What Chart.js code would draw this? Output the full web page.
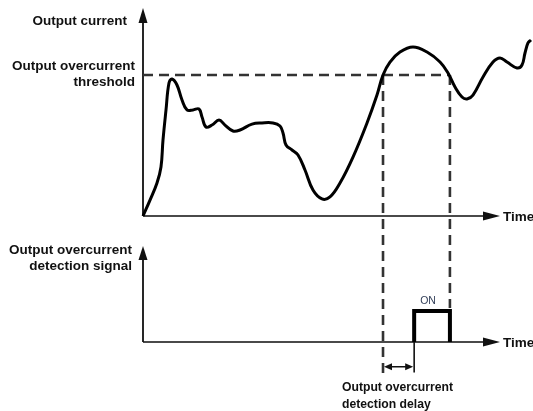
<!DOCTYPE html>
<html>
<head>
<meta charset="utf-8">
<script src="https://cdn.jsdelivr.net/npm/chart.js@4/dist/chart.umd.min.js"></script>
<style>
  html, body { margin: 0; padding: 0; background: #fff; }
  #wrap { width: 533px; height: 411px; position: relative; }
</style>
</head>
<body>
<div id="wrap"><canvas id="chart"></canvas></div>
<script>
// output current trace (time in arbitrary units, current in % of threshold)
const timeSamples = [0, 1.98, 3.95, 5.08, 5.65, 6.5, 7.34, 8.19, 9.6, 11.02, 12.43, 14.12, 15.82, 16.67, 17.8, 19.49, 21.47, 23.16, 25.42, 27.4, 30.79, 33.62, 36.72, 38.7, 39.55, 40.4, 42.09, 43.79, 45.76, 48.02, 50.56, 52.82, 55.65, 59.32, 63.28, 66.1, 67.8, 69.77, 72.6, 76.27, 80.23, 83.9, 86.16, 88.14, 90.11, 91.53, 93.22, 96.05, 98.87, 100.85, 102.82, 105.65, 107.06, 107.91, 108.76, 109.6];
const currentSamples = [0, 11.3, 23.4, 34.8, 53.9, 75.2, 94.3, 97.2, 92.9, 82.3, 75.2, 75.2, 75.9, 70.2, 63.1, 64.5, 68.1, 64.5, 60.3, 61.0, 65.2, 66.0, 66.0, 63.8, 58.9, 50.4, 46.8, 43.3, 32.6, 18.4, 12.1, 13.5, 23.4, 41.8, 66.0, 85.8, 100, 109.2, 116.3, 119.9, 116.3, 109.2, 101.4, 91.5, 84.4, 83.0, 85.8, 98.6, 109.2, 112.1, 109.2, 105.0, 107.1, 115.6, 122.7, 124.8];
const thresholdLevel = 100;
// times where the current crosses the threshold (up, down)
const crossTimes = [67.8, 86.7];
// detection signal: goes ON after the detection delay
const signalTimes = [76.6, 76.6, 86.7, 86.7];
const signalValues = [0, 1, 1, 0];
const axisEnd = 100;

// page layout (pixels)
const W = 533, H = 411;
const ORIGIN_X = 143, AXIS_END_X = 497;
const BASE1_Y = 216, THRESH_Y = 75;
const BASE2_Y = 342, ON_Y = 311;

const pxPerT = (AXIS_END_X - ORIGIN_X) / axisEnd;
const pxPerI = (BASE1_Y - THRESH_Y) / thresholdLevel;
const pxPerS = (BASE2_Y - ON_Y) / 1;

const LABEL_FONT = 'bold 13.5px "Liberation Sans", Arial, sans-serif';
const SMALL_FONT = 'bold 12.2px "Liberation Sans", Arial, sans-serif';

function arrowHead(ctx, tipX, tipY, dir, len, half) {
  // dir: 'up' | 'right' | 'left'
  ctx.beginPath();
  if (dir === 'up') {
    ctx.moveTo(tipX, tipY);
    ctx.lineTo(tipX - half, tipY + len);
    ctx.lineTo(tipX + half, tipY + len);
  } else if (dir === 'right') {
    ctx.moveTo(tipX, tipY);
    ctx.lineTo(tipX - len, tipY - half);
    ctx.lineTo(tipX - len, tipY + half);
  } else {
    ctx.moveTo(tipX, tipY);
    ctx.lineTo(tipX + len, tipY - half);
    ctx.lineTo(tipX + len, tipY + half);
  }
  ctx.closePath();
  ctx.fill();
}

const diagramPlugin = {
  id: 'diagram',
  beforeDatasetsDraw(chart) {
    const ctx = chart.ctx;
    const xs = chart.scales.x, ys = chart.scales.y, ys2 = chart.scales.y2;
    const x0 = xs.getPixelForValue(0);
    const xEnd = xs.getPixelForValue(axisEnd);
    const b1 = ys.getPixelForValue(0);
    const b2 = ys2.getPixelForValue(0);
    const th = ys.getPixelForValue(thresholdLevel);

    ctx.save();
    // time axes
    ctx.strokeStyle = '#4a4a4a';
    ctx.fillStyle = '#111';
    ctx.lineWidth = 2;
    [b1, b2].forEach(b => {
      ctx.beginPath();
      ctx.moveTo(x0, b);
      ctx.lineTo(xEnd - 12, b);
      ctx.stroke();
      arrowHead(ctx, xEnd + 3, b, 'right', 17, 4.5);
    });
    // vertical axes
    ctx.strokeStyle = '#111';
    ctx.lineWidth = 1.8;
    ctx.beginPath();
    ctx.moveTo(x0, b1); ctx.lineTo(x0, 18);
    ctx.moveTo(x0, b2); ctx.lineTo(x0, 256);
    ctx.stroke();
    arrowHead(ctx, x0, 8, 'up', 15, 4.5);
    arrowHead(ctx, x0, 246, 'up', 14, 4.5);

    // dashed guides at the threshold crossings
    ctx.strokeStyle = '#333';
    ctx.lineWidth = 2.6;
    ctx.setLineDash([10, 6]);
    const xa = xs.getPixelForValue(crossTimes[0]);
    const xb = xs.getPixelForValue(crossTimes[1]);
    ctx.beginPath();
    ctx.moveTo(xa, th); ctx.lineTo(xa, ys2.getPixelForValue(-1.08));
    ctx.moveTo(xb, th); ctx.lineTo(xb, ys2.getPixelForValue(1) - 3);
    ctx.stroke();
    ctx.restore();
  },
  afterDatasetsDraw(chart) {
    const ctx = chart.ctx;
    const xs = chart.scales.x, ys = chart.scales.y, ys2 = chart.scales.y2;
    const b1 = ys.getPixelForValue(0);
    const b2 = ys2.getPixelForValue(0);
    const xa = xs.getPixelForValue(crossTimes[0]);
    const xOn = xs.getPixelForValue(signalTimes[0]);
    const xOff = xs.getPixelForValue(signalTimes[2]);

    ctx.save();
    // delay marker: thin tick below the axis and double arrow
    ctx.strokeStyle = '#111';
    ctx.fillStyle = '#111';
    ctx.lineWidth = 1.6;
    const yDelay = ys2.getPixelForValue(-0.8);
    ctx.beginPath();
    ctx.moveTo(xOn, b2); ctx.lineTo(xOn, ys2.getPixelForValue(-0.98));
    ctx.moveTo(xa + 7, yDelay); ctx.lineTo(xOn - 7, yDelay);
    ctx.stroke();
    arrowHead(ctx, xa + 1, yDelay, 'left', 8, 3.5);
    arrowHead(ctx, xOn - 1, yDelay, 'right', 8, 3.5);

    // text
    ctx.fillStyle = '#111';
    ctx.textBaseline = 'middle';
    ctx.font = LABEL_FONT;
    ctx.textAlign = 'right';
    ctx.fillText('Output current', 127, 21);
    ctx.fillText('Output overcurrent', 135, 66);
    ctx.fillText('threshold', 135, 82);
    ctx.fillText('Output overcurrent', 132, 250);
    ctx.fillText('detection signal', 132, 266);
    ctx.textAlign = 'left';
    ctx.fillText('Time', 503, b1 + 1);
    ctx.fillText('Time', 503, b2 + 1);
    ctx.font = SMALL_FONT;
    ctx.fillText('Output overcurrent', 342, 388);
    ctx.fillText('detection delay', 342, 405);
    ctx.font = '10.5px "Liberation Sans", Arial, sans-serif';
    ctx.fillStyle = '#34405a';
    ctx.textAlign = 'center';
    ctx.fillText('ON', (xOn + xOff) / 2 - 4, ys2.getPixelForValue(1) - 10);
    ctx.restore();
  }
};

new Chart(document.getElementById('chart'), {
  type: 'scatter',
  data: {
    datasets: [
      {
        label: 'Output current',
        data: timeSamples.map((t, i) => ({ x: t, y: currentSamples[i] })),
        showLine: true,
        borderColor: '#000',
        borderWidth: 3,
        tension: 0.4,
        pointRadius: 0,
        yAxisID: 'y'
      },
      {
        label: 'Threshold',
        data: [{ x: 0, y: thresholdLevel }, { x: crossTimes[1], y: thresholdLevel }],
        showLine: true,
        borderColor: '#333',
        borderWidth: 2.6,
        borderDash: [10, 6],
        pointRadius: 0,
        yAxisID: 'y'
      },
      {
        label: 'Detection signal',
        data: signalTimes.map((t, i) => ({ x: t, y: signalValues[i] })),
        showLine: true,
        borderColor: '#000',
        borderWidth: 4,
        borderJoinStyle: 'miter',
        pointRadius: 0,
        yAxisID: 'y2'
      }
    ]
  },
  options: {
    responsive: true,
    maintainAspectRatio: false,
    animation: false,
    layout: { padding: 0 },
    scales: {
      x: { type: 'linear', display: false, min: -ORIGIN_X / pxPerT, max: (W - ORIGIN_X) / pxPerT },
      y: { display: false, min: -(H - BASE1_Y) / pxPerI, max: BASE1_Y / pxPerI },
      y2: { display: false, min: -(H - BASE2_Y) / pxPerS, max: BASE2_Y / pxPerS }
    },
    plugins: {
      legend: { display: false },
      tooltip: { enabled: false }
    }
  },
  plugins: [diagramPlugin]
});
</script>
</body>
</html>
